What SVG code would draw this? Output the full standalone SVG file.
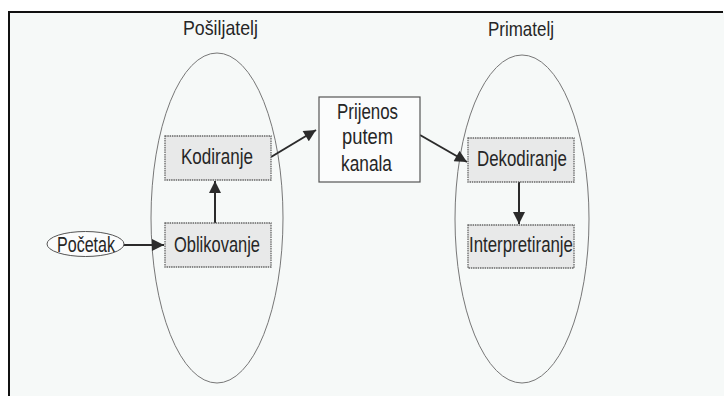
<svg xmlns="http://www.w3.org/2000/svg" width="724" height="396" viewBox="0 0 724 396">
<defs>
<style>
.bg{fill:#f6f9f8}
.frame{stroke:#111;stroke-width:2;fill:none}
.group{fill:none;stroke:#777;stroke-width:1}
.box{fill:#e8e9e9;stroke:#666;stroke-width:1.3;stroke-dasharray:1.5 0.8}
.wbox{fill:#fbfcfc;stroke:#555;stroke-width:1.2}
.start{fill:#fbfcfc;stroke:#555;stroke-width:1}
text{font-family:"Liberation Sans Narrow","Liberation Sans",Arial,sans-serif;font-size:22px;fill:#262626}
.title{font-size:21px}
.conn{stroke:#2b2b2b;stroke-width:2;fill:none;marker-end:url(#ah)}
</style>
<marker id="ah" viewBox="0 0 10 10" refX="10" refY="5" markerUnits="userSpaceOnUse" markerWidth="13" markerHeight="12" orient="auto">
<path d="M0,0 L10,5 L0,10 z" fill="#2b2b2b"/>
</marker>
</defs>
<rect x="0" y="0" width="724" height="396" fill="#ffffff"/>
<rect class="bg" x="9" y="12" width="715" height="384"/>
<path class="frame" d="M9,396 V12 H723"/>

<g id="posiljatelj">
<ellipse class="group" cx="217" cy="218" rx="66" ry="165"/>
<text class="title" x="183" y="35" textLength="75" lengthAdjust="spacingAndGlyphs">Pošiljatelj</text>
</g>
<g id="primatelj">
<ellipse class="group" cx="522" cy="219" rx="67" ry="164"/>
<text class="title" x="488" y="36" textLength="66" lengthAdjust="spacingAndGlyphs">Primatelj</text>
</g>

<g id="connectors">
<line class="conn" x1="124" y1="245" x2="164" y2="245"/>
<line class="conn" x1="215" y1="223" x2="215" y2="181"/>
<line class="conn" x1="271" y1="157" x2="316" y2="130"/>
<line class="conn" x1="420" y1="135" x2="467" y2="162"/>
<line class="conn" x1="519" y1="182" x2="519" y2="224"/>
</g>

<g id="pocetak">
<ellipse class="start" cx="85.5" cy="244" rx="38.5" ry="12.5"/>
<text x="57" y="252" textLength="58" lengthAdjust="spacingAndGlyphs">Početak</text>
</g>
<g id="oblikovanje">
<rect class="box" x="165" y="223" width="106" height="44"/>
<text x="174" y="252" textLength="86" lengthAdjust="spacingAndGlyphs">Oblikovanje</text>
</g>
<g id="kodiranje">
<rect class="box" x="165" y="136" width="106" height="44"/>
<text x="181" y="164" textLength="72" lengthAdjust="spacingAndGlyphs">Kodiranje</text>
</g>
<g id="prijenos">
<rect class="wbox" x="319" y="97" width="101" height="85"/>
<text x="337" y="119" textLength="61" lengthAdjust="spacingAndGlyphs">Prijenos</text>
<text x="342" y="144" textLength="51" lengthAdjust="spacingAndGlyphs">putem</text>
<text x="341" y="171" textLength="51" lengthAdjust="spacingAndGlyphs">kanala</text>
</g>
<g id="dekodiranje">
<rect class="box" x="468" y="138" width="106" height="44"/>
<text x="477" y="166" textLength="90" lengthAdjust="spacingAndGlyphs">Dekodiranje</text>
</g>
<g id="interpretiranje">
<rect class="box" x="468" y="225" width="106" height="43"/>
<text x="469" y="252" textLength="104" lengthAdjust="spacingAndGlyphs">Interpretiranje</text>
</g>
</svg>
